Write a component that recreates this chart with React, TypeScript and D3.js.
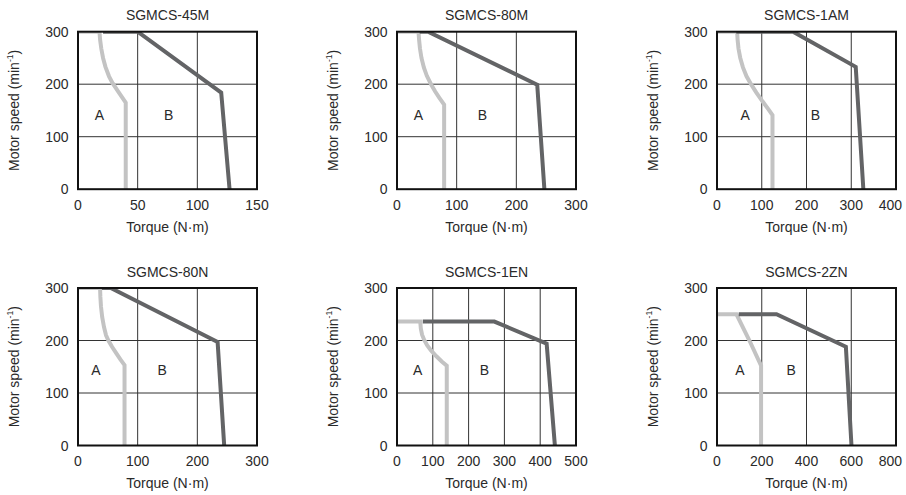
import React from "react";
import * as d3 from "d3";

const panelTitles = ["SGMCS-45M", "SGMCS-80M", "SGMCS-1AM", "SGMCS-80N", "SGMCS-1EN", "SGMCS-2ZN"];
const xDomainMax = [150, 300, 400, 300, 500, 800];
const xTicks45M = [0, 50, 100, 150];
const xTicks80M = [0, 100, 200, 300];
const xTicks1AM = [0, 100, 200, 300, 400];
const xTicks80N = [0, 100, 200, 300];
const xTicks1EN = [0, 100, 200, 300, 400, 500];
const xTicks2ZN = [0, 200, 400, 600, 800];
const xTickLists = [xTicks45M, xTicks80M, xTicks1AM, xTicks80N, xTicks1EN, xTicks2ZN];
const yTickValues = [0, 100, 200, 300];

// Region A boundary (light grey) [torque, speed]
const curveA45M: [number, number][] = [[0, 300], [18, 300], [18.5, 285], [19.5, 268], [21, 250], [23, 233], [26, 215], [29, 202], [34, 185], [40, 165], [40, 0]];
const curveA80M: [number, number][] = [[0, 300], [36, 300], [37, 285], [38.5, 268], [41, 250], [45, 232], [50, 216], [57, 200], [64, 186], [71, 174], [79, 161], [79, 0]];
const curveA1AM: [number, number][] = [[0, 300], [45, 300], [46, 285], [48, 268], [52, 250], [58, 232], [66, 215], [76, 200], [88, 184], [102, 167], [115, 152], [124, 141], [124, 0]];
const curveA80N: [number, number][] = [[0, 300], [37, 300], [37.5, 283], [38.5, 265], [40.5, 245], [43.5, 226], [47, 210], [51, 200], [57, 188], [64, 176], [71, 164], [78, 153], [78, 0]];
const curveA1EN: [number, number][] = [[0, 236], [65, 236], [66.5, 223], [70, 211], [76, 201], [84, 191], [95, 181], [110, 170], [125, 160], [139, 152], [139, 0]];
const curveA2ZN: [number, number][] = [[0, 250], [87, 250], [145, 200], [197, 152], [197, 0]];
const curvesA = [curveA45M, curveA80M, curveA1AM, curveA80N, curveA1EN, curveA2ZN];

// Region B boundary (dark grey)
const curveB45M: [number, number][] = [[21, 300], [50, 300], [120, 184], [127, 0]];
const curveB80M: [number, number][] = [[38, 300], [52, 300], [235, 199], [247, 0]];
const curveB1AM: [number, number][] = [[43, 300], [170, 300], [310, 233], [327, 0]];
const curveB80N: [number, number][] = [[40, 300], [55, 300], [234, 197], [245, 0]];
const curveB1EN: [number, number][] = [[72, 236], [272, 236], [418, 194], [441, 0]];
const curveB2ZN: [number, number][] = [[97, 250], [266, 250], [576, 188], [601, 0]];
const curvesB = [curveB45M, curveB80M, curveB1AM, curveB80N, curveB1EN, curveB2ZN];

const labelAPos: [number, number][] = [[18, 141], [36, 141], [63, 141], [30, 143], [58, 143], [102, 143]];
const labelBPos: [number, number][] = [[76, 141], [143, 141], [220, 141], [141, 143], [244, 143], [332, 143]];

const colLeft = [78, 397, 717];
const rowTop = [31.7, 288];
const plotW = 179;
const plotH = 157.5;
const font = "'Liberation Sans', Arial, Helvetica, sans-serif";
const textColor = "#2a2a2a";
const fs = 14;
const svgW = 906;

function Panel({ i }: { i: number }) {
  const left = colLeft[i % 3];
  const top = rowTop[Math.floor(i / 3)];
  const x = d3.scaleLinear().domain([0, xDomainMax[i]]).range([left, left + plotW]);
  const y = d3.scaleLinear().domain([0, 300]).range([top + plotH, top]);
  const line = d3
    .line<[number, number]>()
    .x((d) => x(d[0]))
    .y((d) => y(d[1]));
  const clipId = `clip${i}`;
  const xt = xTickLists[i];
  return (
    <g>
      <defs>
        <clipPath id={clipId}>
          <rect x={left} y={top} width={plotW} height={plotH} />
        </clipPath>
      </defs>
      {xt.slice(1, -1).map((t) => (
        <line key={"gx" + t} x1={x(t)} x2={x(t)} y1={top} y2={top + plotH} stroke="#333" strokeWidth={1} />
      ))}
      {yTickValues.slice(1, -1).map((t) => (
        <line key={"gy" + t} x1={left} x2={left + plotW} y1={y(t)} y2={y(t)} stroke="#333" strokeWidth={1} />
      ))}
      <g clipPath={`url(#${clipId})`}>
        <path d={line(curvesA[i]) || ""} fill="none" stroke="#c3c3c3" strokeWidth={4} strokeLinejoin="miter" />
        <path d={line(curvesB[i]) || ""} fill="none" stroke="#636466" strokeWidth={4} strokeLinejoin="miter" />
      </g>
      <rect x={left} y={top} width={plotW} height={plotH} fill="none" stroke="#111" strokeWidth={2} />
      <text x={left + plotW / 2} y={top - 11.5} textAnchor="middle" fontSize={fs} fontFamily={font} fill={textColor}>
        {panelTitles[i]}
      </text>
      {xt.map((t) => {
        const cx = x(t);
        const overflow = cx + 13 > svgW - 2;
        return (
          <text
            key={"xl" + t}
            x={overflow ? svgW - 4 : cx}
            y={top + plotH + 20.5}
            textAnchor={overflow ? "end" : "middle"}
            fontSize={fs}
            fontFamily={font}
            fill={textColor}
          >
            {t}
          </text>
        );
      })}
      {yTickValues.map((t) => (
        <text key={"yl" + t} x={left - 9.5} y={y(t) + 5} textAnchor="end" fontSize={fs} fontFamily={font} fill={textColor}>
          {t}
        </text>
      ))}
      <text x={left + plotW / 2} y={top + plotH + 42.5} textAnchor="middle" fontSize={fs} fontFamily={font} fill={textColor}>
        Torque (N·m)
      </text>
      <text
        transform={`translate(${left - 59.5}, ${top + plotH / 2}) rotate(-90)`}
        textAnchor="middle"
        fontSize={fs}
        fontFamily={font}
        fill={textColor}
      >
        Motor speed (min
        <tspan fontSize={8.5} dy={-5.5}>-1</tspan>
        <tspan dy={5.5}>)</tspan>
      </text>
      <text x={x(labelAPos[i][0])} y={y(labelAPos[i][1]) + 5} textAnchor="middle" fontSize={fs} fontFamily={font} fill={textColor}>
        A
      </text>
      <text x={x(labelBPos[i][0])} y={y(labelBPos[i][1]) + 5} textAnchor="middle" fontSize={fs} fontFamily={font} fill={textColor}>
        B
      </text>
    </g>
  );
}

export default function App() {
  return (
    <svg width={svgW} height={495} style={{ position: "absolute", left: 0, top: 0, background: "#fff" }}>
      <rect width={svgW} height={495} fill="#fff" />
      {panelTitles.map((_, i) => (
        <Panel key={i} i={i} />
      ))}
    </svg>
  );
}
